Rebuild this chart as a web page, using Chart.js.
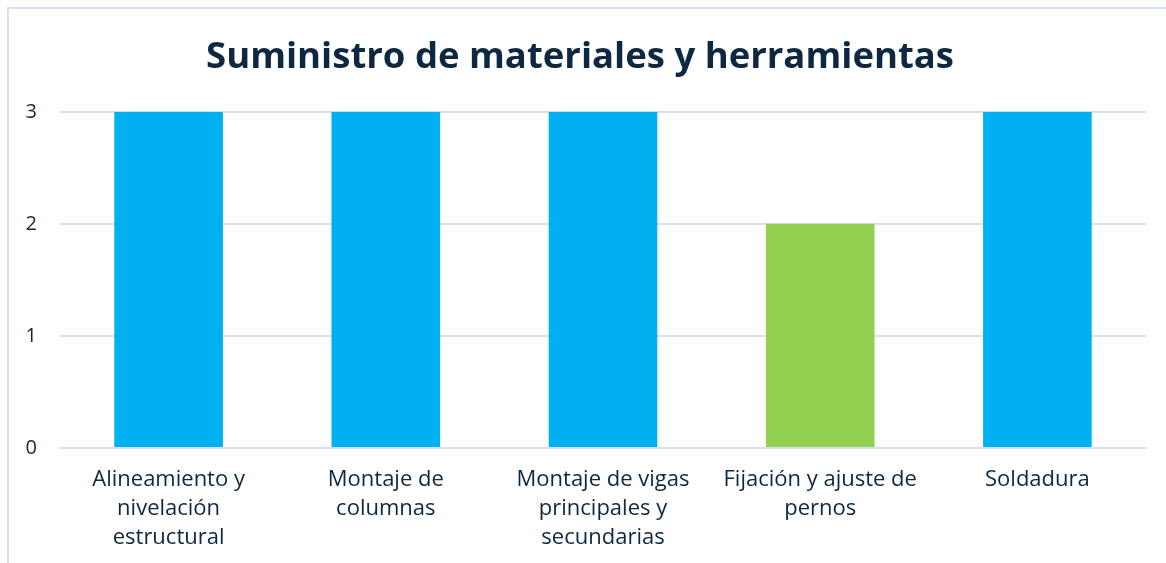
<!DOCTYPE html>
<html>
<head>
<meta charset="utf-8">
<script src="https://cdn.jsdelivr.net/npm/chart.js@4/dist/chart.umd.min.js"></script>
<style>
  html, body { margin: 0; padding: 0; background: #fff; overflow: hidden; }
  #frame { position: absolute; left: 7px; top: 7px; width: 1300px; height: 700px; border: 2px solid #D3E1F4; box-sizing: border-box; }
  #wrap { position: absolute; left: 0; top: 0; width: 1166px; height: 563px; }
</style>
</head>
<body>
<div id="frame"></div>
<div id="wrap"><canvas id="c" width="1166" height="563"></canvas></div>
<script>
const title = "Suministro de materiales y herramientas";
const categories = [
  ["Alineamiento y", "nivelación", "estructural"],
  ["Montaje de", "columnas"],
  ["Montaje de vigas", "principales y", "secundarias"],
  ["Fijación y ajuste de", "pernos"],
  ["Soldadura"]
];
const values = [3, 3, 3, 2, 3];
const barColors = ["#00B0F0", "#00B0F0", "#00B0F0", "#92D050", "#00B0F0"];
const yTicks = [0, 1, 2, 3];

const textColor = "#0E2841";
const gridColor = "#D3E1F4";
const fontFamily = "'Open Sans', sans-serif";

new Chart(document.getElementById("c"), {
  type: "bar",
  data: {
    labels: categories,
    datasets: [{
      data: values,
      backgroundColor: barColors,
      borderWidth: 0,
      categoryPercentage: 1,
      barPercentage: 0.5
    }]
  },
  options: {
    responsive: false,
    animation: false,
    devicePixelRatio: 1,
    layout: { padding: { left: 14, right: 20, top: 0, bottom: 0 } },
    plugins: {
      legend: { display: false },
      tooltip: { enabled: false },
      title: {
        display: true,
        text: title,
        color: textColor,
        font: { family: fontFamily, size: 36.5, weight: "bold" },
        padding: { top: 36, bottom: 32 }
      }
    },
    scales: {
      x: {
        afterFit: (s) => { s.paddingLeft = 0; s.paddingRight = 0; s.height = 115; },
        grid: { display: false, drawTicks: false },
        border: { display: true, color: gridColor, width: 2 },
        ticks: {
          color: textColor,
          font: { family: fontFamily, size: 22, lineHeight: 1.32 },
          padding: 17,
          maxRotation: 0,
          autoSkip: false
        }
      },
      y: {
        min: 0,
        max: 3,
        afterBuildTicks: (axis) => { axis.ticks = yTicks.map(v => ({ value: v })); },
        afterFit: (s) => { s.width = 46; },
        grid: { color: gridColor, lineWidth: 2, drawTicks: false },
        border: { display: false },
        ticks: {
          color: textColor,
          font: { family: fontFamily, size: 20 },
          padding: 23
        }
      }
    }
  }
});
</script>
</body>
</html>
